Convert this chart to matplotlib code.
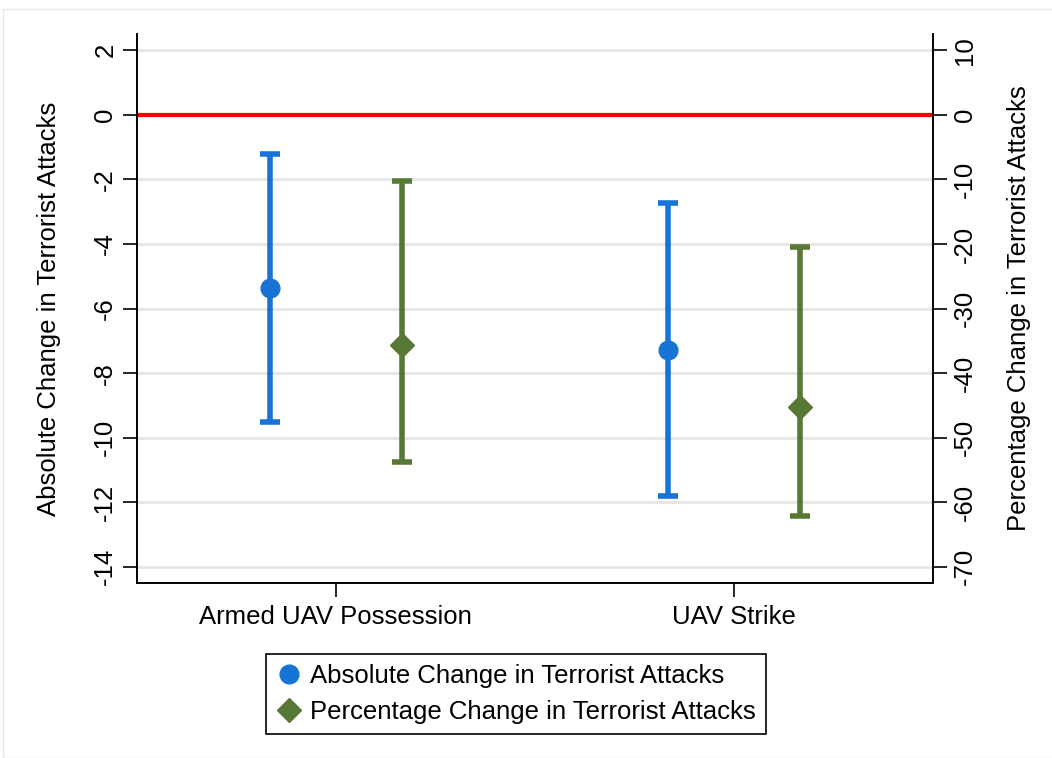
import numpy as np
import matplotlib.pyplot as plt
from matplotlib.lines import Line2D
from matplotlib.patches import Rectangle

plt.rcParams['font.family'] = ['Liberation Sans', 'DejaVu Sans']
plt.rcParams['axes.unicode_minus'] = False

categories = ['Armed UAV Possession', 'UAV Strike']

# absolute change (left axis)
abs_est = [-5.36, -7.28]
abs_lo = [-9.53, -11.82]
abs_hi = [-1.22, -2.73]

# percentage change (right axis)
pct_est = [-35.7, -45.2]
pct_lo = [-53.8, -62.2]
pct_hi = [-10.2, -20.4]

left_ticks = [2, 0, -2, -4, -6, -8, -10, -12, -14]
right_ticks = [10, 0, -10, -20, -30, -40, -50, -60, -70]

blue = '#1874d4'
green = '#587836'

fig = plt.figure(figsize=(10.52, 7.58), dpi=100)
fig.patches.append(Rectangle((0.003, 0.0), 1.0, 0.988, transform=fig.transFigure,
                             fill=False, edgecolor='#e8e8e8', linewidth=1))
ax = fig.add_axes([0.130, 0.231, 0.757, 0.724])
ax2 = ax.twinx()

x = np.arange(1, len(categories) + 1)
off = 0.165

ax.axhline(0, color='#ff0000', lw=3, zorder=3)

a = np.array(abs_est)
ax.errorbar(x - off, a, yerr=[a - np.array(abs_lo), np.array(abs_hi) - a],
            fmt='o', color=blue, ms=13.5, elinewidth=4, capsize=7.5, capthick=4, zorder=4)
p = np.array(pct_est)
ax2.errorbar(x + off, p, yerr=[p - np.array(pct_lo), np.array(pct_hi) - p],
             fmt='D', color=green, ms=12.5, elinewidth=4, capsize=7.5, capthick=4, zorder=4)

ax.set_xlim(0.5, 2.5)
ax.set_ylim(-14.5, 2.5)
ax2.set_ylim(-72.5, 12.5)
ax.set_yticks(left_ticks)
ax2.set_yticks(right_ticks)
ax.set_xticks(x)
ax.set_xticklabels(categories, fontsize=18.5)
ax.grid(axis='y', color='#e6e6e6', lw=2)
ax.set_axisbelow(True)

for t in ax.get_yticklabels():
    t.set_rotation(90)
    t.set_va('center')
for t in ax2.get_yticklabels():
    t.set_rotation(90)
    t.set_va('center')

ax.tick_params(axis='y', labelsize=18.5, length=10, width=1.2, pad=4)
ax2.tick_params(axis='y', labelsize=18.5, length=10, width=1.2, pad=4)
ax.tick_params(axis='x', labelsize=18.5, length=10, width=1.2, pad=6)

for a_ in (ax, ax2):
    a_.spines['top'].set_visible(False)
    for s in ('left', 'right', 'bottom'):
        a_.spines[s].set_linewidth(1.2)

ax.set_ylabel('Absolute Change in Terrorist Attacks', fontsize=18.5, labelpad=23)
ax2.set_ylabel('Percentage Change in Terrorist Attacks', fontsize=18.5, labelpad=22)

handles = [Line2D([], [], marker='o', color=blue, ls='none', ms=13.5),
           Line2D([], [], marker='D', color=green, ls='none', ms=12.5)]
leg = fig.legend(handles, ['Absolute Change in Terrorist Attacks',
                           'Percentage Change in Terrorist Attacks'],
                 loc='center', bbox_to_anchor=(0.4905, 0.0844), fontsize=18.5,
                 fancybox=False, edgecolor='black', framealpha=1,
                 handletextpad=0.3, borderpad=0.4, labelspacing=0.45,
                 handlelength=1.0, borderaxespad=0)
leg.get_frame().set_linewidth(1.2)

fig.savefig('out.png', dpi=100)
